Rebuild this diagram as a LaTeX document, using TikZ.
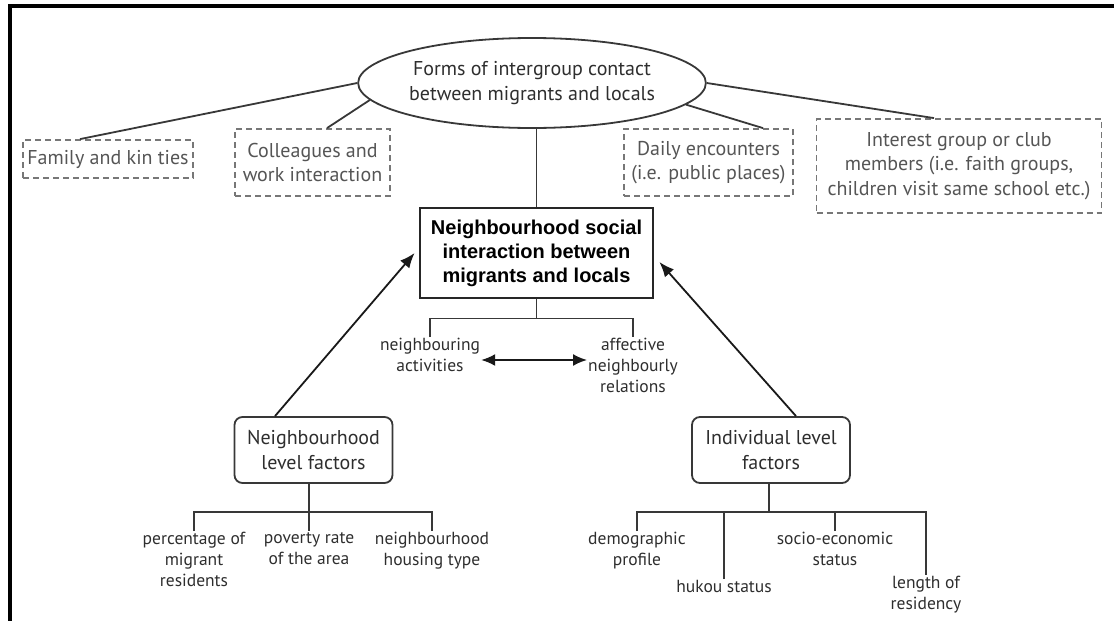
\documentclass[tikz,border=0pt]{standalone}
\usepackage{fontspec}
\setmainfont{PT Sans}
\newfontfamily\arialfont{Liberation Sans}
\usetikzlibrary{shapes,positioning,arrows.meta}
\definecolor{linec}{HTML}{383838}
\definecolor{inkc}{HTML}{2E2E2E}
\definecolor{dashc}{HTML}{777777}
\definecolor{dtext}{HTML}{555555}

\begin{document}
\begin{tikzpicture}[x=1pt, y=-1pt, font=\fontsize{20}{24.5}\selectfont]
    \tikzstyle{contact} = [draw=linec, line width=1.8pt, ellipse, inner sep=0pt, minimum width=296pt, minimum height=90pt, align=center, text=inkc]
    \tikzstyle{dbox} = [draw=dashc, line width=1.8pt, dash pattern=on 6pt off 4pt, rectangle, inner sep=0pt, align=center, text=dtext]
    \tikzstyle{mbox} = [draw=black!85, line width=2.8pt, rectangle, minimum width=233pt, minimum height=90pt, align=center, font=\arialfont\bfseries\fontsize{20}{24}\selectfont]
    \tikzstyle{factor} = [draw=linec, line width=1.8pt, rounded corners=8pt, minimum width=158pt, minimum height=66pt, align=center, text=inkc]
    \tikzstyle{leaf} = [inner sep=1pt, align=center, text=inkc, font=\fontsize{17.5}{21}\selectfont]
    \tikzstyle{link} = [draw=linec, line width=1.8pt]
    \tikzstyle{tip} = [draw=black!90, -{Latex[length=15pt, width=12pt]}]

    \useasboundingbox (0,0) rectangle (1114,621);
    \draw[line width=3.5pt] (10,630) -- (10,6) -- (1124,6);

    % forms of contact
    \node[contact] (forms) at (532,83) {Forms of intergroup contact\\between migrants and locals};
    \node[dbox, minimum width=170pt, minimum height=38pt] (kin) at (108,159) {Family and kin ties};
    \node[dbox, minimum width=155pt, minimum height=67pt] (work) at (312.5,162.5) {Colleagues and\\work interaction};
    \node[dbox, minimum width=169pt, minimum height=67pt] (daily) at (708.5,162.5) {Daily encounters\\(i.e. public places)};
    \node[dbox, minimum width=285pt, minimum height=94pt] (club) at (959,166) {Interest group or club\\members (i.e. faith groups,\\children visit same school etc.)};

    \draw[link] (forms.west) -- ([xshift=-28pt]kin.north);
    \draw[link] (forms.186) -- ([xshift=14.5pt]work.north);
    \draw[link] (forms.352) -- ([xshift=54.5pt]daily.north);
    \draw[link] (forms.east) -- ([xshift=-25pt]club.north);

    % social interaction
    \node[mbox] (nsi) at (536.5,253) {Neighbourhood social\\interaction between\\migrants and locals};
    \draw[link] (nsi.north |- forms.south) -- (nsi.north);

    \node[leaf, anchor=north] (act) at (430,337) {neighbouring\\activities};
    \node[leaf, anchor=north] (aff) at (633,337) {affective\\neighbourly\\relations};
    \coordinate (mj) at ([yshift=-19pt]nsi.south);
    \draw[link] (nsi.south) -- (mj);
    \draw[link] (act.north) |- (mj) -| (aff.north);
    \draw[link, draw=black!90, {Latex[length=14pt, width=12pt]}-{Latex[length=14pt, width=12pt]}] ([yshift=-5pt]act.east) -- ([yshift=-5pt]act.east -| aff.west);

    % factors
    \node[factor] (nlf) at (313.5,450) {Neighbourhood\\level factors};
    \node[factor] (ilf) at (771,450) {Individual level\\factors};
    \draw[link, tip] ([xshift=-38.5pt]nlf.north) -- ([xshift=-4pt]nsi.west);
    \draw[link, tip] ([xshift=25pt]ilf.north) -- ([xshift=5pt, yshift=-9pt]nsi.east);

    % neighbourhood level
    \node[leaf, anchor=north] (pct) at (194,531) {percentage of\\migrant\\residents};
    \node[leaf, anchor=north] (pov) at (309,531) {poverty rate\\of the area};
    \node[leaf, anchor=north] (hous) at (432,531) {neighbourhood\\housing type};
    \coordinate (nj) at (309,512);
    \draw[link] (nj |- nlf.south) -- (pov.north);
    \draw[link] (pct.north) |- (nj) -| (hous.north);

    % individual level
    \node[leaf, anchor=north] (demo) at (637,531) {demographic\\profile};
    \node[leaf, anchor=north] (hukou) at (724,579) {hukou status};
    \node[leaf, anchor=north] (socio) at (835,531) {socio-economic\\status};
    \node[leaf, anchor=north] (len) at (926,575) {length of\\residency};
    \coordinate (ij) at (769,512);
    \draw[link] (ij |- ilf.south) -- (ij);
    \draw[link] (demo.north) |- (ij) -| (len.north);
    \draw[link] (hukou.north) |- (ij);
    \draw[link] (socio.north) |- (ij);
\end{tikzpicture}
\end{document}
